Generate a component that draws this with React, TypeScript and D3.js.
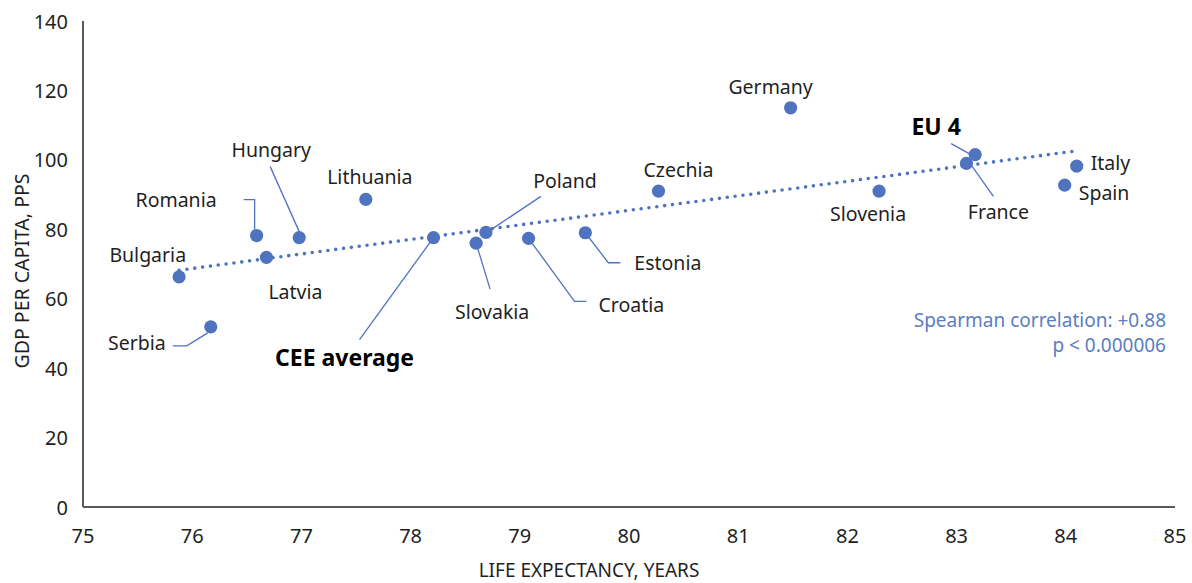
import * as d3 from 'd3'

// Life expectancy (years) vs GDP per capita (PPS, EU = 100)
const countries = [
  'Bulgaria', 'Serbia', 'Romania', 'Latvia', 'Hungary', 'Lithuania', 'CEE average',
  'Slovakia', 'Poland', 'Croatia', 'Estonia', 'Czechia', 'Germany', 'Slovenia',
  'France', 'EU 4', 'Italy', 'Spain',
]
const lifeExpectancy = [
  75.88, 76.17, 76.59, 76.68, 76.98, 77.59, 78.21,
  78.6, 78.69, 79.08, 79.6, 80.27, 81.48, 82.29,
  83.09, 83.17, 84.1, 83.99,
]
const gdpPerCapita = [
  66.3, 51.9, 78.2, 71.9, 77.6, 88.6, 77.6,
  76.0, 79.1, 77.4, 79.0, 91.0, 115.0, 91.0,
  99.0, 101.5, 98.2, 92.7,
]
const boldLabels = ['CEE average', 'EU 4']

// fitted trend line, read at the two ends
const trendX = [75.88, 84.1]
const trendY = [68.2, 102.6]

const xTicks = [75, 76, 77, 78, 79, 80, 81, 82, 83, 84, 85]
const yTicks = [0, 20, 40, 60, 80, 100, 120, 140]

const statLines = ['Spearman correlation: +0.88', 'p < 0.000006']

// label placement relative to the point (px): offset, anchor, optional leader path
type Layout = { dx: number; dy: number; anchor: 'start' | 'middle' | 'end'; leader?: [number, number][] }
const labelLayout: Record<string, Layout> = {
  Bulgaria: { dx: 7, dy: -22, anchor: 'end' },
  Serbia: { dx: -45, dy: 16, anchor: 'end', leader: [[-38, 19], [-24, 19], [-3, 6]] },
  Romania: { dx: -40, dy: -36, anchor: 'end', leader: [[-13, -36], [-2, -36], [-2, -6]] },
  Latvia: { dx: 29, dy: 34, anchor: 'middle' },
  Hungary: { dx: -28, dy: -88, anchor: 'middle', leader: [[-29, -71], [0, -6]] },
  Lithuania: { dx: 4, dy: -23, anchor: 'middle' },
  'CEE average': { dx: -89, dy: 119, anchor: 'middle', leader: [[-74, 102], [0, 0]] },
  Slovakia: { dx: 16, dy: 68, anchor: 'middle', leader: [[0, 0], [14, 46]] },
  Poland: { dx: 79, dy: -52, anchor: 'middle', leader: [[55, -36], [7, -4]] },
  Croatia: { dx: 70, dy: 66, anchor: 'start', leader: [[0, 0], [46, 63], [58, 63]] },
  Estonia: { dx: 49, dy: 30, anchor: 'start', leader: [[0, 0], [23, 30], [35, 30]] },
  Czechia: { dx: 20, dy: -22, anchor: 'middle' },
  Germany: { dx: -20, dy: -21, anchor: 'middle' },
  Slovenia: { dx: -11, dy: 22, anchor: 'middle' },
  France: { dx: 32, dy: 48, anchor: 'middle', leader: [[5, 2], [27, 33]] },
  'EU 4': { dx: -39, dy: -29, anchor: 'middle', leader: [[-24, -11], [-6, -1]] },
  Italy: { dx: 14, dy: -4, anchor: 'start' },
  Spain: { dx: 14, dy: 7, anchor: 'start' },
}

const W = 1192
const H = 583
const BLUE = '#4F73BE'
const AXIS = '#595959'
const TEXT = '#1F1F1F'
const FONT = '"Noto Sans", "Open Sans", sans-serif'

export default function App() {
  const x = d3.scaleLinear().domain([75, 85]).range([83, 1175])
  const y = d3.scaleLinear().domain([0, 140]).range([507, 21])
  const line = d3.line<[number, number]>()
  const trend = line(trendX.map((v, i) => [x(v), y(trendY[i])]))

  const points = countries.map((name, i) => ({
    name,
    px: x(lifeExpectancy[i]),
    py: y(gdpPerCapita[i]),
    layout: labelLayout[name],
  }))

  return (
    <svg width={W} height={H} style={{ position: 'absolute', left: 0, top: 0, background: '#fff' }} fontFamily={FONT}>
      {/* axes */}
      <line x1={x(75)} x2={x(85)} y1={y(0)} y2={y(0)} stroke={AXIS} strokeWidth={2} />
      <line x1={x(75)} x2={x(75)} y1={y(0)} y2={y(140)} stroke={AXIS} strokeWidth={2} />
      {yTicks.map(t => (
        <text key={t} x={68} y={y(t)} textAnchor="end" dominantBaseline="central" fontSize={20} fill={TEXT}>
          {t}
        </text>
      ))}
      {xTicks.map(t => (
        <text key={t} x={x(t)} y={535} textAnchor="middle" dominantBaseline="central" fontSize={20} fill={TEXT}>
          {t}
        </text>
      ))}
      <text x={589} y={570} textAnchor="middle" dominantBaseline="central" fontSize={19} fill={TEXT}>
        LIFE EXPECTANCY, YEARS
      </text>
      <text
        transform={`translate(21,${271}) rotate(-90)`}
        textAnchor="middle"
        dominantBaseline="central"
        fontSize={19.5}
        fill={TEXT}
      >
        GDP PER CAPITA, PPS
      </text>

      {/* trend */}
      <path d={trend ?? ''} fill="none" stroke={BLUE} strokeWidth={3.6} strokeLinecap="round" strokeDasharray="0 7.9" />

      {/* leader lines */}
      {points.map(p =>
        p.layout.leader ? (
          <path
            key={p.name}
            d={line(p.layout.leader.map(([a, b]) => [p.px + a, p.py + b])) ?? ''}
            fill="none"
            stroke={BLUE}
            strokeWidth={1.3}
          />
        ) : null
      )}

      {/* points */}
      {points.map(p => (
        <circle key={p.name} cx={p.px} cy={p.py} r={6.6} fill={BLUE} />
      ))}

      {/* labels */}
      {points.map(p => {
        const bold = boldLabels.includes(p.name)
        return (
          <text
            key={p.name}
            x={p.px + p.layout.dx}
            y={p.py + p.layout.dy}
            textAnchor={p.layout.anchor}
            dominantBaseline="central"
            fontSize={bold ? 23 : 19.5}
            fontWeight={bold ? 700 : 400}
            fill={bold ? '#000' : TEXT}
          >
            {p.name}
          </text>
        )
      })}

      {/* correlation note */}
      {statLines.map((s, i) => (
        <text key={s} x={1166} y={320 + i * 25} textAnchor="end" dominantBaseline="central" fontSize={19} fill="#5B7DC3">
          {s}
        </text>
      ))}
    </svg>
  )
}
